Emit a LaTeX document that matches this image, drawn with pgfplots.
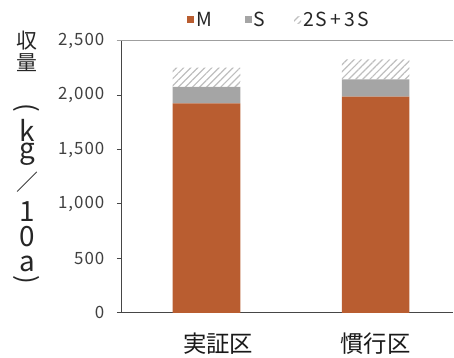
\documentclass[border=0pt]{standalone}
\usepackage{fontspec}
\setmainfont{Noto Sans CJK JP}
\newfontfamily\tickfont[LetterSpace=6]{Noto Sans CJK JP}
\newfontfamily\legfont[LetterSpace=10]{Noto Sans CJK JP}
\usepackage{pgfplots}
\usepackage{pgfplotstable}
\pgfplotsset{compat=1.18}
\usetikzlibrary{patterns.meta,calc}

\definecolor{cM}{RGB}{185,93,48}
\definecolor{cS}{RGB}{165,165,165}
\definecolor{cH}{RGB}{190,190,190}
\definecolor{axisgray}{RGB}{70,70,70}
\definecolor{textgray}{RGB}{64,64,64}

% yield by grade (kg/10a)
\pgfplotstableread{
x M S H
0 1925 150 177
1 1985 160 183
}\yield

\begin{document}
\begin{tikzpicture}
\begin{axis}[
  name=ax,
  scale only axis, width=332bp, height=272.6bp,
  ybar stacked, bar width=0.4,
  xmin=-0.5, xmax=1.46, ymin=0, ymax=2500,
  axis x line*=bottom, axis y line*=left,
  axis line style={draw=axisgray, line width=1bp},
  xtick={0,1}, xticklabels={\hphantom{区}実証区,慣行区},
  x tick label style={font=\fontsize{23.5}{23.5}\selectfont, text=black!90, yshift=-11bp},
  x tick style={draw=none},
  ytick={0,500,...,2500},
  y tick label style={font=\tickfont\fontsize{17}{17}\selectfont, text=textgray, xshift=-9bp},
  yticklabel style={/pgf/number format/.cd, 1000 sep={,}, assume math mode=true},
  y tick style={draw=axisgray, line width=1bp},
  tick align=outside, major tick length=5bp,
  legend columns=-1,
  legend style={draw=none, fill=none, inner sep=0pt, at={(0.196,1.076)}, anchor=west,
    font=\legfont\fontsize{19.5}{19.5}\selectfont, text=black!85,
    /tikz/column 2/.append style={column sep=31bp},
    /tikz/column 4/.append style={column sep=27bp},
    nodes={inner xsep=2bp}},
  legend image code/.code={\fill[#1] (0bp,-3.5bp) rectangle (7bp,3.5bp);},
]
\addplot[fill=cM, draw=none] table[x=x, y=M] {\yield};
\addplot[fill=cS, draw=none] table[x=x, y=S] {\yield};
\addplot[draw=none, pattern={Lines[angle=45, distance=5bp, line width=1.2bp]}, pattern color=cH] table[x=x, y=H] {\yield};
\legend{M, S, 2S\,+\,3S}
\end{axis}
\draw[color=gray!75, line width=1.2bp] ($(ax.north west)+(-5bp,0)$) -- (ax.north east);
% vertical axis title, one character per line
\foreach \ch/\yy/\fs in {収/264.8/21, 量/242.8/21, k/171.3/28, g/154.3/28,
    ／/122.3/22, 1/91.3/28, 0/66.3/28, a/41.3/28}
  \node[font=\fontsize{\fs}{\fs}\selectfont, inner sep=0pt, text=black!85, anchor=base]
    at ($(ax.south west)+(-95bp,\yy bp)$) {\ch};
\node[font=\fontsize{26}{26}\selectfont, inner sep=0pt, text=black!85, rotate=-90]
  at ($(ax.south west)+(-95bp,204.8bp)$) {(};
\node[font=\fontsize{26}{26}\selectfont, inner sep=0pt, text=black!85, rotate=-90]
  at ($(ax.south west)+(-95bp,33.3bp)$) {)};
\path[use as bounding box] ($(ax.south west)+(-122bp,-33.7bp)$) rectangle ($(ax.north east)+(0bp,40.7bp)$);
\end{tikzpicture}
\end{document}
